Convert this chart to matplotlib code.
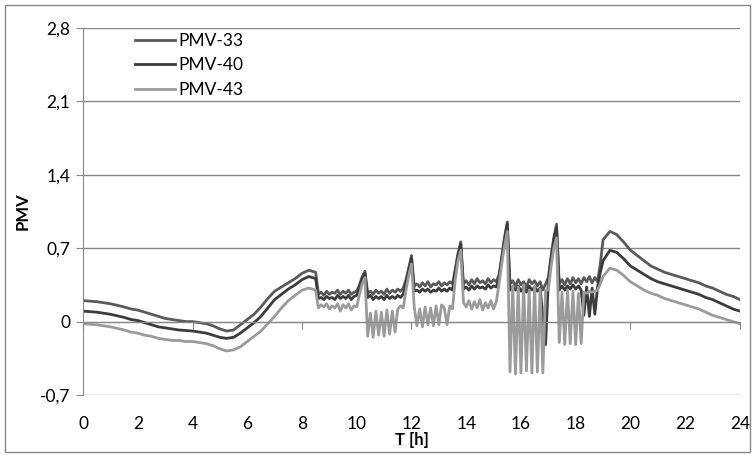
import numpy as np
import matplotlib.pyplot as plt
from matplotlib.patches import Rectangle

plt.rcParams['font.family'] = ['Lato', 'DejaVu Sans']

# time grid: coarse where curves are smooth, finer in the noisy middle part
t_morning = np.round(np.arange(0, 8.51, 0.25), 2)
t_day = np.round(np.arange(8.6, 18.91, 0.1), 2)
t_evening = np.round(np.arange(19.0, 24.01, 0.25), 2)
hours = np.concatenate([t_morning, t_day, t_evening])

# PMV-33
pmv33_morning = [0.20, 0.195, 0.19, 0.18, 0.17, 0.155, 0.14, 0.12, 0.11, 0.09, 0.07, 0.05,
                 0.03, 0.02, 0.01, 0.0, 0.0, -0.01, -0.02, -0.04, -0.07, -0.09, -0.08, -0.03,
                 0.02, 0.07, 0.14, 0.22, 0.29, 0.33, 0.37, 0.41, 0.46, 0.49, 0.47]
pmv33_day = [0.26, 0.28, 0.25, 0.29, 0.26, 0.28, 0.27, 0.30, 0.26, 0.29, 0.27, 0.30, 0.26, 0.28,
             0.29, 0.35, 0.43, 0.48, 0.27, 0.29, 0.26, 0.30, 0.27, 0.29, 0.26, 0.31, 0.27, 0.30,
             0.28, 0.31, 0.29, 0.32, 0.40, 0.51, 0.63, 0.34, 0.36, 0.33, 0.37, 0.34, 0.38, 0.33,
             0.36, 0.35, 0.38, 0.34, 0.37, 0.35, 0.38, 0.36, 0.50, 0.65, 0.76, 0.36, 0.39, 0.35,
             0.40, 0.36, 0.41, 0.37, 0.39, 0.36, 0.41, 0.37, 0.40, 0.38, 0.45, 0.62, 0.80, 0.95,
             0.36, 0.39, 0.34, 0.40, 0.35, 0.38, 0.33, 0.40, 0.36, 0.39, 0.34, 0.38, 0.30, 0.36,
             0.42, 0.62, 0.80, 0.93, 0.36, 0.40, 0.35, 0.41, 0.36, 0.42, 0.37, 0.41, 0.36, 0.42,
             0.38, 0.43, 0.37, 0.42, 0.38, 0.55]
pmv33_evening = [0.78, 0.86, 0.83, 0.76, 0.68, 0.63, 0.58, 0.53, 0.50, 0.47, 0.45, 0.43, 0.41,
                 0.39, 0.37, 0.34, 0.32, 0.29, 0.26, 0.24, 0.21]

# PMV-40
pmv40_morning = [0.10, 0.095, 0.09, 0.08, 0.07, 0.055, 0.04, 0.02, 0.01, -0.01, -0.03, -0.05,
                 -0.06, -0.07, -0.08, -0.085, -0.09, -0.10, -0.11, -0.13, -0.15, -0.16, -0.15,
                 -0.11, -0.06, -0.01, 0.05, 0.13, 0.21, 0.26, 0.31, 0.35, 0.40, 0.43, 0.41]
pmv40_day = [0.22, 0.23, 0.21, 0.24, 0.22, 0.23, 0.21, 0.25, 0.22, 0.24, 0.22, 0.25, 0.21, 0.24,
             0.25, 0.33, 0.41, 0.46, 0.23, 0.25, 0.21, 0.24, 0.22, 0.24, 0.21, 0.25, 0.22, 0.24,
             0.22, 0.25, 0.23, 0.26, 0.37, 0.49, 0.60, 0.29, 0.30, 0.28, 0.31, 0.29, 0.31, 0.28,
             0.30, 0.29, 0.32, 0.29, 0.31, 0.29, 0.32, 0.30, 0.48, 0.63, 0.74, 0.31, 0.33, 0.30,
             0.34, 0.31, 0.34, 0.32, 0.33, 0.31, 0.35, 0.32, 0.34, 0.33, 0.42, 0.60, 0.78, 0.93,
             0.30, 0.33, 0.30, 0.34, 0.29, 0.33, 0.28, 0.34, 0.30, 0.33, 0.29, 0.32, 0.05, -0.22,
             0.38, 0.60, 0.78, 0.90, 0.30, 0.34, 0.30, 0.34, 0.31, 0.35, 0.31, 0.34, 0.30, 0.06,
             0.33, 0.05, 0.32, 0.07, 0.33, 0.47]
pmv40_evening = [0.58, 0.68, 0.66, 0.60, 0.53, 0.49, 0.45, 0.41, 0.38, 0.36, 0.34, 0.32, 0.30,
                 0.28, 0.26, 0.23, 0.21, 0.18, 0.15, 0.12, 0.10]

# PMV-43
pmv43_morning = [-0.02, -0.025, -0.03, -0.04, -0.05, -0.065, -0.08, -0.10, -0.11, -0.13, -0.14,
                 -0.16, -0.17, -0.18, -0.18, -0.19, -0.19, -0.20, -0.21, -0.23, -0.26, -0.28,
                 -0.27, -0.24, -0.19, -0.14, -0.09, -0.02, 0.05, 0.13, 0.20, 0.25, 0.30, 0.32, 0.30]
pmv43_day = [0.13, 0.16, 0.14, 0.17, 0.12, 0.15, 0.13, 0.17, 0.10, 0.16, 0.13, 0.17, 0.11, 0.15,
             0.14, 0.26, 0.36, 0.42, -0.14, 0.08, -0.15, 0.10, -0.13, 0.09, -0.14, 0.11, -0.12,
             0.10, -0.10, 0.12, 0.15, 0.13, 0.30, 0.44, 0.55, 0.14, -0.04, 0.12, -0.05, 0.14,
             -0.03, 0.13, -0.04, 0.15, -0.03, 0.16, 0.13, -0.03, 0.15, 0.12, 0.40, 0.58, 0.68,
             0.18, 0.14, 0.20, 0.12, 0.19, 0.13, 0.21, 0.11, 0.18, 0.13, 0.20, 0.12, 0.19, 0.36,
             0.55, 0.72, 0.86, -0.48, 0.34, -0.50, 0.33, -0.49, 0.35, -0.47, 0.30, -0.49, 0.34,
             -0.48, 0.31, -0.49, 0.30, 0.30, 0.52, 0.70, 0.80, -0.20, 0.28, -0.22, 0.30, -0.21,
             0.29, -0.22, 0.27, -0.21, 0.28, 0.27, 0.29, 0.28, 0.29, 0.30, 0.36]
pmv43_evening = [0.43, 0.51, 0.49, 0.44, 0.38, 0.34, 0.30, 0.27, 0.25, 0.22, 0.20, 0.18, 0.16,
                 0.14, 0.12, 0.09, 0.06, 0.04, 0.02, 0.0, -0.02]

pmv33 = pmv33_morning + pmv33_day + pmv33_evening
pmv40 = pmv40_morning + pmv40_day + pmv40_evening
pmv43 = pmv43_morning + pmv43_day + pmv43_evening

y_ticks = [-0.7, 0, 0.7, 1.4, 2.1, 2.8]
y_tick_labels = ['-0,7', '0', '0,7', '1,4', '2,1', '2,8']
x_labels = list(range(0, 25, 2))

grey = '#878787'

fig = plt.figure(figsize=(7.55, 4.57), dpi=100)
ax = fig.add_axes([0.110, 0.1357, 0.870, 0.803])

ax.plot(hours, pmv33, color='#5a5a5a', lw=2, label='PMV-33')
ax.plot(hours, pmv40, color='#3c3c3c', lw=2, label='PMV-40')
ax.plot(hours, pmv43, color='#9b9b9b', lw=2, label='PMV-43')

ax.set_xlim(0, 24)
ax.set_ylim(-0.7, 2.8)
ax.set_yticks(y_ticks)
ax.set_yticklabels(y_tick_labels)
ax.yaxis.grid(True, color=grey, lw=1)
ax.set_axisbelow(True)

for s in ['top', 'right']:
    ax.spines[s].set_visible(False)
ax.spines['left'].set_color(grey)
ax.spines['bottom'].set_color(grey)
ax.spines['bottom'].set_position(('data', 0))

# x axis crosses at 0 with ticks every 4 h, labels sit at the bottom
ax.set_xticks(range(0, 25, 4))
ax.tick_params(axis='x', labelbottom=False, length=5, color=grey)
ax.tick_params(axis='y', length=5, color=grey, labelsize=12.5, pad=4)

sec = ax.secondary_xaxis('bottom')
sec.set_xticks(x_labels)
sec.set_xticklabels([str(v) for v in x_labels])
sec.tick_params(length=0, labelsize=12.5, pad=15)
sec.spines['bottom'].set_visible(False)
sec.set_xlabel('T [h]', fontweight='bold', fontsize=12, labelpad=0)

ax.set_ylabel('PMV', fontweight='bold', fontsize=12, labelpad=7)

ax.legend(loc='upper left', bbox_to_anchor=(0.055, 1.03), frameon=False, fontsize=12.5,
          handlelength=2.3, handletextpad=0.2, labelspacing=0.5)

fig.patches.append(Rectangle((5 / 755, 5 / 457), 745 / 755, 447 / 457, transform=fig.transFigure,
                             fill=False, edgecolor=grey, lw=1))

fig.savefig('out.png', dpi=100)
